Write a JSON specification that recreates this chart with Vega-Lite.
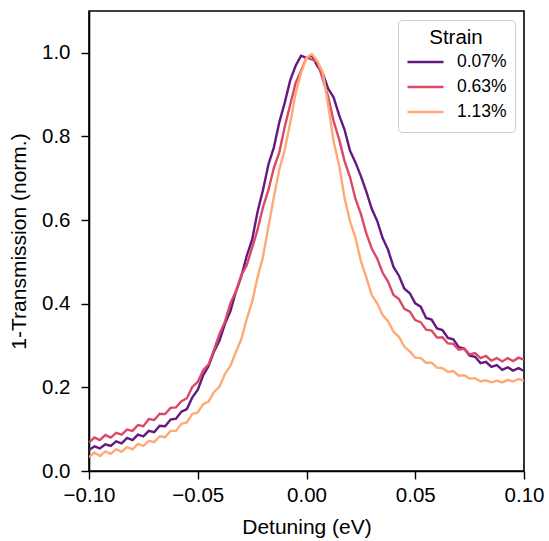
{
  "$schema": "https://vega.github.io/schema/vega-lite/v6.json",
  "width": 435,
  "height": 460,
  "autosize": {"type": "none"},
  "padding": {"left": 89, "top": 11, "right": 25, "bottom": 70},
  "background": "white",
  "config": {
    "font": "Liberation Sans",
    "view": {"stroke": "black", "strokeWidth": 1.6},
    "axis": {
      "domainColor": "black", "domainWidth": 1.6,
      "tickColor": "black", "tickWidth": 1.4, "tickSize": 8,
      "labelColor": "black", "titleColor": "black",
      "labelFontSize": 20.5, "titleFontSize": 21, "titleFontWeight": "normal",
      "grid": false, "labelFlush": false, "labelOverlap": false
    }
  },
  "data": {"values": [
    {"x": -0.1, "a": 0.050, "b": 0.068, "c": 0.033},
    {"x": -0.0975, "a": 0.059, "b": 0.080, "c": 0.044},
    {"x": -0.095, "a": 0.054, "b": 0.074, "c": 0.036},
    {"x": -0.0925, "a": 0.064, "b": 0.086, "c": 0.047},
    {"x": -0.09, "a": 0.060, "b": 0.080, "c": 0.041},
    {"x": -0.0875, "a": 0.071, "b": 0.091, "c": 0.052},
    {"x": -0.085, "a": 0.066, "b": 0.087, "c": 0.046},
    {"x": -0.0825, "a": 0.079, "b": 0.099, "c": 0.057},
    {"x": -0.08, "a": 0.074, "b": 0.096, "c": 0.052},
    {"x": -0.0775, "a": 0.087, "b": 0.110, "c": 0.065},
    {"x": -0.075, "a": 0.083, "b": 0.107, "c": 0.060},
    {"x": -0.0725, "a": 0.096, "b": 0.124, "c": 0.072},
    {"x": -0.07, "a": 0.093, "b": 0.122, "c": 0.069},
    {"x": -0.0675, "a": 0.108, "b": 0.137, "c": 0.083},
    {"x": -0.065, "a": 0.107, "b": 0.136, "c": 0.081},
    {"x": -0.0625, "a": 0.123, "b": 0.151, "c": 0.096},
    {"x": -0.06, "a": 0.125, "b": 0.152, "c": 0.096},
    {"x": -0.0575, "a": 0.142, "b": 0.167, "c": 0.113},
    {"x": -0.055, "a": 0.148, "b": 0.174, "c": 0.116},
    {"x": -0.0525, "a": 0.176, "b": 0.201, "c": 0.136},
    {"x": -0.05, "a": 0.194, "b": 0.213, "c": 0.140},
    {"x": -0.0475, "a": 0.229, "b": 0.241, "c": 0.160},
    {"x": -0.045, "a": 0.251, "b": 0.255, "c": 0.166},
    {"x": -0.0425, "a": 0.286, "b": 0.290, "c": 0.189},
    {"x": -0.04, "a": 0.312, "b": 0.328, "c": 0.202},
    {"x": -0.0375, "a": 0.352, "b": 0.357, "c": 0.232},
    {"x": -0.035, "a": 0.382, "b": 0.401, "c": 0.251},
    {"x": -0.0325, "a": 0.428, "b": 0.429, "c": 0.284},
    {"x": -0.03, "a": 0.465, "b": 0.468, "c": 0.315},
    {"x": -0.0275, "a": 0.514, "b": 0.492, "c": 0.363},
    {"x": -0.025, "a": 0.553, "b": 0.534, "c": 0.405},
    {"x": -0.0225, "a": 0.620, "b": 0.577, "c": 0.463},
    {"x": -0.02, "a": 0.672, "b": 0.631, "c": 0.512},
    {"x": -0.0175, "a": 0.733, "b": 0.672, "c": 0.585},
    {"x": -0.015, "a": 0.774, "b": 0.725, "c": 0.655},
    {"x": -0.0125, "a": 0.834, "b": 0.762, "c": 0.721},
    {"x": -0.01, "a": 0.881, "b": 0.823, "c": 0.768},
    {"x": -0.0075, "a": 0.934, "b": 0.876, "c": 0.832},
    {"x": -0.005, "a": 0.969, "b": 0.928, "c": 0.903},
    {"x": -0.0025, "a": 0.993, "b": 0.957, "c": 0.952},
    {"x": 0.0, "a": 0.988, "b": 0.989, "c": 0.988},
    {"x": 0.0025, "a": 0.994, "b": 0.984, "c": 0.997},
    {"x": 0.005, "a": 0.968, "b": 0.978, "c": 0.980},
    {"x": 0.0075, "a": 0.951, "b": 0.937, "c": 0.953},
    {"x": 0.01, "a": 0.914, "b": 0.894, "c": 0.874},
    {"x": 0.0125, "a": 0.893, "b": 0.836, "c": 0.787},
    {"x": 0.015, "a": 0.851, "b": 0.793, "c": 0.731},
    {"x": 0.0175, "a": 0.816, "b": 0.741, "c": 0.653},
    {"x": 0.02, "a": 0.766, "b": 0.703, "c": 0.597},
    {"x": 0.0225, "a": 0.738, "b": 0.651, "c": 0.558},
    {"x": 0.025, "a": 0.705, "b": 0.615, "c": 0.502},
    {"x": 0.0275, "a": 0.668, "b": 0.568, "c": 0.463},
    {"x": 0.03, "a": 0.627, "b": 0.532, "c": 0.421},
    {"x": 0.0325, "a": 0.598, "b": 0.508, "c": 0.401},
    {"x": 0.035, "a": 0.557, "b": 0.474, "c": 0.373},
    {"x": 0.0375, "a": 0.529, "b": 0.453, "c": 0.358},
    {"x": 0.04, "a": 0.488, "b": 0.421, "c": 0.333},
    {"x": 0.0425, "a": 0.467, "b": 0.411, "c": 0.321},
    {"x": 0.045, "a": 0.436, "b": 0.388, "c": 0.297},
    {"x": 0.0475, "a": 0.425, "b": 0.381, "c": 0.286},
    {"x": 0.05, "a": 0.401, "b": 0.361, "c": 0.271},
    {"x": 0.0525, "a": 0.393, "b": 0.356, "c": 0.270},
    {"x": 0.055, "a": 0.366, "b": 0.338, "c": 0.259},
    {"x": 0.0575, "a": 0.362, "b": 0.336, "c": 0.259},
    {"x": 0.06, "a": 0.341, "b": 0.319, "c": 0.247},
    {"x": 0.0625, "a": 0.337, "b": 0.320, "c": 0.246},
    {"x": 0.065, "a": 0.318, "b": 0.305, "c": 0.237},
    {"x": 0.0675, "a": 0.315, "b": 0.304, "c": 0.239},
    {"x": 0.07, "a": 0.296, "b": 0.290, "c": 0.228},
    {"x": 0.0725, "a": 0.293, "b": 0.292, "c": 0.229},
    {"x": 0.075, "a": 0.276, "b": 0.279, "c": 0.221},
    {"x": 0.0775, "a": 0.273, "b": 0.282, "c": 0.222},
    {"x": 0.08, "a": 0.258, "b": 0.270, "c": 0.214},
    {"x": 0.0825, "a": 0.261, "b": 0.275, "c": 0.217},
    {"x": 0.085, "a": 0.249, "b": 0.264, "c": 0.212},
    {"x": 0.0875, "a": 0.253, "b": 0.270, "c": 0.216},
    {"x": 0.09, "a": 0.242, "b": 0.262, "c": 0.212},
    {"x": 0.0925, "a": 0.248, "b": 0.270, "c": 0.218},
    {"x": 0.095, "a": 0.240, "b": 0.263, "c": 0.214},
    {"x": 0.0975, "a": 0.246, "b": 0.271, "c": 0.220},
    {"x": 0.1, "a": 0.239, "b": 0.266, "c": 0.216}
  ]},
  "transform": [{"fold": ["a", "b", "c"], "as": ["Strain", "y"]}],
  "mark": {"type": "line", "strokeWidth": 2.4, "clip": true},
  "encoding": {
    "x": {
      "field": "x", "type": "quantitative",
      "scale": {"domain": [-0.1, 0.1], "nice": false},
      "axis": {"values": [-0.1, -0.05, 0, 0.05, 0.1], "format": ".2f", "title": "Detuning (eV)", "labelPadding": 6, "titlePadding": 11}
    },
    "y": {
      "field": "y", "type": "quantitative",
      "scale": {"domain": [0, 1.1], "nice": false},
      "axis": {"values": [0, 0.2, 0.4, 0.6, 0.8, 1.0], "format": ".1f", "title": "1-Transmission (norm.)", "labelPadding": 11, "titlePadding": 12}
    },
    "color": {
      "field": "Strain", "type": "nominal",
      "scale": {"domain": ["a", "b", "c"], "range": ["#63197f", "#dc4868", "#feaa74"]},
      "legend": {
        "title": "Strain", "orient": "top-right", "offset": 9,
        "titleAnchor": "middle", "titleFontSize": 20.5, "titleFontWeight": "normal", "titleColor": "black", "titlePadding": 2,
        "labelFontSize": 17.5, "labelColor": "black",
        "symbolType": "stroke", "symbolStrokeWidth": 2.5, "symbolSize": 1300,
        "clipHeight": 23, "rowPadding": 2,
        "strokeColor": "#cccccc", "fillColor": "white", "padding": 8, "cornerRadius": 4,
        "labelOffset": 12,
        "labelExpr": "{'a': '0.07%', 'b': '0.63%', 'c': '1.13%'}[datum.label]"
      }
    }
  }
}
